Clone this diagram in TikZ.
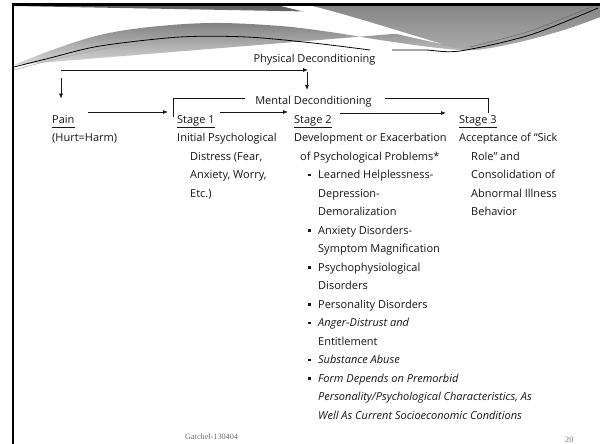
\documentclass[tikz,border=0pt]{standalone}
\usepackage{fontspec}
\setmainfont{Open Sans}
\newfontfamily\footfont{Liberation Serif}
\usetikzlibrary{arrows.meta}

\definecolor{inkc}{HTML}{161616}
\definecolor{hdrdark}{HTML}{5E5E5E}
\definecolor{hdrlight}{HTML}{D8D8D8}
\definecolor{hdrmid}{HTML}{868686}
\definecolor{hdrmidlow}{HTML}{ABABAB}

\begin{document}
\begin{tikzpicture}[x=1pt,y=1pt,
  txt/.style={anchor=base west, inner sep=0pt, text=inkc,
              font=\fontsize{11}{13}\selectfont},
  itxt/.style={txt, font=\fontsize{11}{13}\selectfont\itshape},
  lbl/.style={anchor=base, inner sep=0pt, text=inkc,
              font=\fontsize{11}{13}\selectfont},
  bul/.style={fill=inkc, inner sep=0pt, minimum size=2.5pt, draw=none},
  arr/.style={-{Latex[length=5pt,width=4pt]}, line width=0.75pt, draw=inkc},
  wire/.style={line width=0.75pt, draw=inkc},
  uline/.style={line width=0.6pt, draw=inkc},
  foot/.style={anchor=base west, inner sep=0pt, text=black!55,
               font=\footfont\fontsize{8.2}{9}\selectfont}]
\useasboundingbox (0,0) rectangle (600,444);
\fill[white] (0,0) rectangle (600,444);

% ---- slide header band ----
\shade[top color=hdrdark, bottom color=hdrlight]
  (14,438) -- (600,438) -- (600,427)
  plot[smooth, tension=0.6] coordinates {(600,427) (560,413) (510,400) (470,394) (430,397)
        (380,404) (330,412) (280,418) (213,421) (150,417) (100,409) (55,395) (14,379)}
  -- cycle;
\shade[top color=hdrmid, bottom color=hdrmidlow]
  (300,438) -- (600,438) -- (600,427)
  plot[smooth, tension=0.6] coordinates {(600,427) (560,413) (510,400) (470,394) (440,400)}
  .. controls (395,412) and (340,428) .. (300,438) -- cycle;
\fill[white] (281,438) .. controls (330,426) and (390,411) .. (442,400)
  .. controls (392,415) and (345,430) .. (312,438) -- cycle;
% thin swoosh lines
\draw[line width=0.5pt, black!35]
  plot[smooth] coordinates {(14,374) (60,386) (120,398) (190,404) (250,405)};
\draw[line width=0.8pt, black]
  plot[smooth] coordinates {(14,377) (50,386) (100,398) (180,407) (247,407) (313,401) (370,394)};
\draw[line width=0.8pt, black]
  plot[smooth] coordinates {(392,394) (425,394) (460,393) (530,409) (598,436)};
\draw[line width=0.5pt, black!60]
  plot[smooth] coordinates {(470,397) (530,413) (596,439)};

% ---- slide frame ----
\draw[line width=2.6pt, black] (13,0) -- (13,439.3) -- (600,439.3);

% ---- column headers ----
\node[txt] (pain) at (52,320) {Pain};
\node[txt] (s1) at (177,320) {Stage 1};
\node[txt] (s2) at (294,320) {Stage 2};
\node[txt] (s3) at (459,320) {Stage 3};
\foreach \n in {pain,s1,s2,s3}
  \draw[uline] ([yshift=-3pt]\n.base west) -- ([yshift=-3pt]\n.base east);

% ---- deconditioning labels ----
\node[lbl] (pd) at (314.5,381) {Physical Deconditioning};
\node[lbl] (md) at (313.5,339) {Mental Deconditioning};

% ---- physical deconditioning loop ----
\coordinate (phL) at (61,374);
\coordinate (phR) at (308,374);
\coordinate (phD) at (307,354);
\draw[arr] (phL) -- (phR);
\draw[arr] ([yshift=-2pt]phR -| phD) -- (phD);
\draw[arr] ([yshift=-8pt]phL) -- ([yshift=17pt]pain.north -| phL);

% ---- mental deconditioning bracket ----
\draw[wire] ([shift={(-4pt,7pt)}]s1.base west) |- ([shift={(-10pt,7pt)}]md.base west);
\draw[wire] ([shift={(13pt,7pt)}]md.base east) -| ([shift={(29pt,11pt)}]s3.base west);

% ---- stage to stage arrows ----
\draw[arr] ([shift={(36pt,12pt)}]pain.base west) -- ([shift={(-9pt,12pt)}]s1.base west);
\draw[arr] ([shift={(43pt,12pt)}]s1.base west) -- ([shift={(-6pt,12pt)}]s2.base west);
\draw[arr] ([shift={(46pt,11pt)}]s2.base west) -- ([shift={(-13pt,11pt)}]s3.base west);

% ---- pain column ----
\node[txt] (p1) at (52,302) {(Hurt=Harm)};

% ---- stage 1 column ----
\node[txt] (a1) at (177,302) {Initial Psychological};
\node[txt] (a2) at (190,283.5) {Distress (Fear,};
\node[txt] (a3) at (190,265) {Anxiety, Worry,};
\node[txt] (a4) at (190,246.5) {Etc.)};

% ---- stage 2 column ----
\node[txt] (c1) at (294,302) {Development or Exacerbation};
\node[txt] (c2) at (300,283.5) {of Psychological Problems*};
\node[txt] (c3) at (318,265) {Learned Helplessness-};
\node[txt] (c4) at (318,246.5) {Depression-};
\node[txt] (c5) at (318,228) {Demoralization};
\node[txt] (c6) at (318,209.5) {Anxiety Disorders-};
\node[txt] (c7) at (318,191) {Symptom Magnification};
\node[txt] (c8) at (318,172.5) {Psychophysiological};
\node[txt] (c9) at (318,154) {Disorders};
\node[txt] (c10) at (318,135.5) {Personality Disorders};
\node[itxt] (c11) at (318,117) {Anger-Distrust and};
\node[txt] (c12) at (318,98.5) {Entitlement};
\node[itxt] (c13) at (318,80) {Substance Abuse};
\node[itxt] (c14) at (318,61.5) {Form Depends on Premorbid};
\node[itxt] (c15) at (318,43) {Personality/Psychological Characteristics, As};
\node[itxt] (c16) at (318,24.5) {Well As Current Socioeconomic Conditions};
\foreach \b/\yy in {b1/265,b2/209.5,b3/172.5,b4/135.5,b5/117,b6/80,b7/61.5}
  \node[bul] (\b) at (309.5,\yy+3.8) {};

% ---- stage 3 column ----
\node[txt] (d1) at (459,302) {Acceptance of “Sick};
\node[txt] (d2) at (471,283.5) {Role” and};
\node[txt] (d3) at (471,265) {Consolidation of};
\node[txt] (d4) at (471,246.5) {Abnormal Illness};
\node[txt] (d5) at (471,228) {Behavior};

% ---- footer ----
\node[foot] (src) at (185,4.5) {Gatchel-130404};
\node[foot] (pg) at (565,1.5) {20};
\end{tikzpicture}
\end{document}
